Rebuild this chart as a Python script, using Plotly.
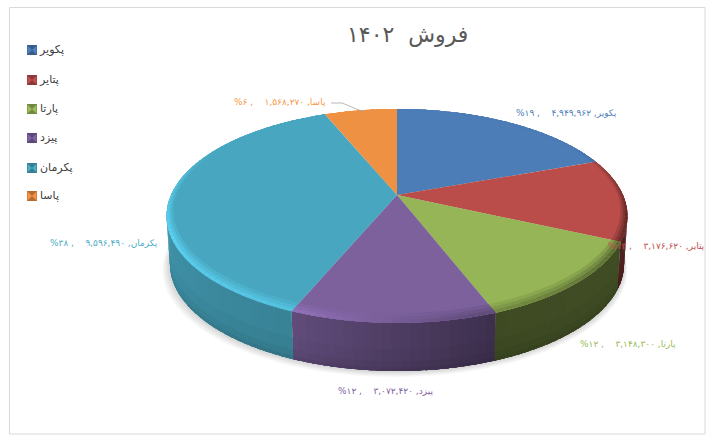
import numpy as np
import plotly.graph_objects as go

"""Tilted 3d-looking pie, drawn in pixel-like axes with filled polygons"""

title_text = "فروش  ۱۴۰۲"
categories = ["پکویر", "پتایر", "پارتا", "پیزد", "پکرمان", "پاسا"]
sales = [4949962, 3176620, 3148300, 3072420, 9596490, 1568270]
percent_labels = [19, 13, 12, 12, 38, 6]
colors = ["#4f81bd", "#c0504d", "#9bbb59", "#8064a2", "#4bacc6", "#f79646"]
dark_colors = ["#385d8a", "#8c3836", "#71893f", "#5c4776", "#357d91", "#b66d31"]

# pie geometry, in reference pixels
CX, CY = 397, 195
RX, RY = 226, 102.9
PERSP = 0.196
DEPTH = 48
SHRINK = 0.015

W, H = 718, 440
FA = "DejaVu Sans"


def project(theta, r=1.0, t=0.0):
    """theta in degrees clockwise from the top, t is 0 on top of the pie and 1 at its foot"""
    a = np.radians(theta)
    u, v = r * np.sin(a), r * np.cos(a)
    x = RX * u / (1 + PERSP * v)
    y = RY * v / (1 + PERSP * v)
    return CX + x * (1 - SHRINK * t), CY - y + DEPTH * t


def shade(color, f):
    rgb = [min(255, int(color[i:i + 2], 16) * f) for i in (1, 3, 5)]
    return "rgb(%d,%d,%d)" % tuple(rgb)


def add_poly(fig, xs, ys, fill):
    fig.add_trace(go.Scatter(x=xs, y=ys, mode="lines", fill="toself", fillcolor=fill,
                             line=dict(width=0), hoverinfo="skip", showlegend=False))


def to_fa(text):
    return str(text).translate(str.maketrans("0123456789", "۰۱۲۳۴۵۶۷۸۹"))


def side_factor(theta):
    return np.interp(theta, [100, 159, 160, 202, 260], [0.42, 0.4, 0.48, 0.76, 0.86])


def rim_factor(theta):
    return np.interp(theta, [0, 60, 100, 125, 165, 200, 250, 270, 300, 360],
                     [0.97, 0.96, 0.5, 0.62, 0.78, 1.12, 1.22, 1.15, 0.97, 0.97])


def rim_width(theta):
    return 0.022 + 0.04 * np.maximum(0, -np.cos(np.radians(theta)))


fig = go.Figure()

# frame
fig.add_shape(type="rect", x0=9.5, y0=7.5, x1=705, y1=434, layer="below",
              line=dict(color="#d9d9d9", width=1), fillcolor="white")

# soft shadow under the pie
theta_all = np.linspace(0, 360, 181)
for grow in [7, 6, 5, 4, 3, 2, 1]:
    xs, ys = project(theta_all, 1.0, 1.0)
    xs = CX + (xs - CX) * (1 + grow * 0.0035) - 0.3 * grow
    ys = ys + grow * 0.9
    add_poly(fig, xs, ys, "rgba(0,0,0,0.025)")

# slice edges come straight from the values
total = sum(sales)
edges = np.cumsum([0] + sales) / total * 360

# outer wall, only the part facing the viewer; strips overlap so no seams show
VIS0, VIS1 = 101.3, 258.7
BANDS = [(0.0, 1.0), (0.55, 0.97), (0.8, 0.93), (0.93, 0.88)]
for i, color in enumerate(colors):
    a0, a1 = max(edges[i], VIS0), min(edges[i + 1], VIS1)
    if a1 <= a0:
        continue
    steps = np.append(np.arange(a0, a1, 2.0), a1)
    for s0, s1 in zip(steps[:-1], steps[1:]):
        mid = (s0 + s1) / 2
        for t0, f in BANDS:
            th = np.linspace(s0, min(s1 + 1.0, a1), 3)
            x0, y0 = project(th, 1.0, t0)
            x1, y1 = project(th[::-1], 1.0, 1.0)
            add_poly(fig, np.r_[x0, x1], np.r_[y0, y1], shade(color, side_factor(mid) * f))

# top face
for i, color in enumerate(colors):
    th = np.linspace(edges[i], edges[i + 1], 80)
    x, y = project(th)
    add_poly(fig, np.r_[CX, x, CX], np.r_[CY, y, CY], shade(color, 0.97))

# bevel round the edge of the top face, painted from the inside out
RINGS = [(1.0, 0.3), (0.66, 0.65), (0.33, 1.0)]
for i, color in enumerate(colors):
    steps = np.append(np.arange(edges[i], edges[i + 1], 2.0), edges[i + 1])
    for s0, s1 in zip(steps[:-1], steps[1:]):
        mid = (s0 + s1) / 2
        for k, w in RINGS:
            th = np.linspace(s0, min(s1 + 1.0, edges[i + 1]), 3)
            x0, y0 = project(th, 1.0)
            x1, y1 = project(th[::-1], 1 - k * rim_width(th[::-1]))
            f = 0.97 + (rim_factor(mid) - 0.97) * w
            add_poly(fig, np.r_[x0, x1], np.r_[y0, y1], shade(color, f))

# leader line of the small slice
fig.add_trace(go.Scatter(x=[331, 342, 364], y=[103, 103, 112], mode="lines",
                         line=dict(color="#a6a6a6", width=0.8), hoverinfo="skip", showlegend=False))

# legend column
legend_y = [50, 80, 109, 138, 168, 196]
legend_x = [32] * len(categories)
legend_text_x = [40] * len(categories)
fig.add_trace(go.Scatter(x=legend_x, y=legend_y, mode="markers", hoverinfo="skip", showlegend=False,
                         marker=dict(symbol="square", size=10, color=dark_colors, line=dict(width=0))))
fig.add_trace(go.Scatter(x=legend_x, y=legend_y, mode="markers", hoverinfo="skip", showlegend=False,
                         marker=dict(symbol="bowtie", size=9, color=colors, line=dict(width=0))))
fig.add_trace(go.Scatter(x=legend_text_x, y=legend_y, mode="text", hoverinfo="skip", showlegend=False,
                         text=categories, textposition="middle right",
                         textfont=dict(family=FA, size=11, color="#404040")))

# data labels: right end of each label in reference pixels
label_right = [619, 707, 678, 435, 160, 328]
label_y = [113, 246, 344, 391, 243, 102]
for i, name in enumerate(categories):
    text = "\u202b%s, %s\u00a0\u00a0\u00a0\u00a0, %s%%\u202c" % (name, to_fa(format(sales[i], ",")), to_fa(percent_labels[i]))
    fig.add_annotation(x=label_right[i], y=label_y[i], text=text, showarrow=False, xanchor="right", yanchor="middle",
                       font=dict(family=FA, size=9, color=colors[i]), xref="x", yref="y")

fig.add_annotation(x=407, y=35, text=title_text, showarrow=False, xref="x", yref="y",
                   font=dict(family=FA, size=22, color="#595959"))

fig.update_layout(width=W, height=H, margin=dict(l=0, r=0, t=0, b=0), showlegend=False,
                  paper_bgcolor="white", plot_bgcolor="white",
                  xaxis=dict(range=[0, W], visible=False, fixedrange=True),
                  yaxis=dict(range=[H, 0], visible=False, fixedrange=True))

fig.write_html("out.html", post_script="document.body.style.margin='0';", config=dict(displayModeBar=False))
